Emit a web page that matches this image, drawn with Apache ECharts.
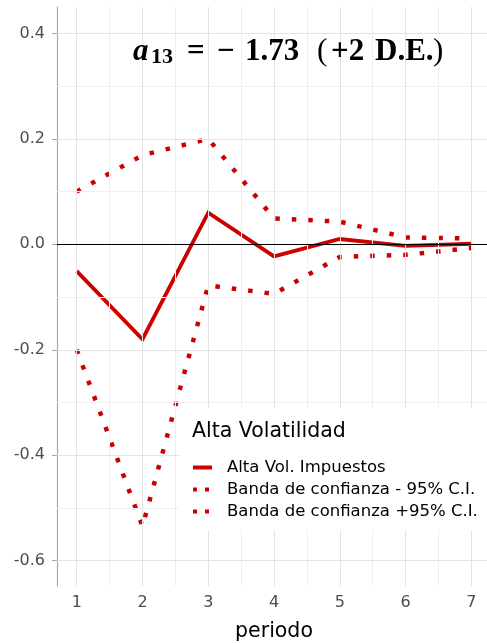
<!DOCTYPE html>
<html><head><meta charset="utf-8">
<script src="https://cdn.jsdelivr.net/npm/echarts@6/dist/echarts.min.js"></script>
<style>html,body{margin:0;padding:0;background:#fff}#c{width:487px;height:643px}</style>
</head><body><div id="c"></div>
<script>
// ---- data ----
const periods = [1, 2, 3, 4, 5, 6, 7];
const altaVol = [-0.051, -0.180, 0.060, -0.023, 0.010, -0.003, 0.001];
const bandLower = [-0.200, -0.535, -0.078, -0.094, -0.024, -0.020, -0.007];
const bandUpper = [0.100, 0.169, 0.200, 0.049, 0.043, 0.013, 0.011];
const seriesNames = ['Alta Vol. Impuestos', 'Banda de confianza - 95% C.I.', 'Banda de confianza +95% C.I.'];
const legendTitle = 'Alta Volatilidad';
const xTicks = [1, 2, 3, 4, 5, 6, 7];
const xMinor = [1.5, 2.5, 3.5, 4.5, 5.5, 6.5];
const yTicks = [-0.6, -0.4, -0.2, 0, 0.2, 0.4];
const yMinor = [-0.5, -0.3, -0.1, 0.1, 0.3];
const xLabel = 'periodo';

// ---- chart ----
const RED = '#CD0000';
const FONT = 'DejaVu Sans';
const pair = (arr) => periods.map((p, i) => [p, arr[i]]);
const gl = (c) => ({ color: c, width: 1, type: 'solid' });
const gridLines = [].concat(
  yMinor.map(v => ({ yAxis: v, lineStyle: gl('#EFEFEF') })),
  xMinor.map(v => ({ xAxis: v, lineStyle: gl('#EFEFEF') })),
  yTicks.map(v => ({ yAxis: v, lineStyle: gl('#E3E3E3') })),
  xTicks.map(v => ({ xAxis: v, lineStyle: gl('#E3E3E3') })),
  [{ yAxis: 0, lineStyle: { color: '#000', width: 1, type: 'solid' } }]
);
const ICON_SOLID = 'path://M0,0h19v4h-19z';
const ICON_DOT = 'path://M0,0h4v4h-4zM12,0h4v4h-4zM19,0v4';

const chart = echarts.init(document.getElementById('c'));
chart.setOption({
  animation: false,
  backgroundColor: '#fff',
  grid: { left: 57, top: 7, right: -4, bottom: 57, outerBoundsMode: 'none' },
  xAxis: {
    type: 'value', min: 0.7, max: 7.3,
    name: xLabel, nameLocation: 'middle', nameGap: 35,
    nameTextStyle: { fontFamily: FONT, fontSize: 20.5, color: '#000' },
    axisLine: { show: true, lineStyle: { color: '#A8A8A8', width: 1.2 } },
    axisTick: { show: true, length: 5, customValues: xTicks, lineStyle: { color: '#A8A8A8' } },
    axisLabel: { customValues: xTicks, margin: 9, fontFamily: FONT, fontSize: 16, color: '#4D4D4D', formatter: v => String(v) },
    splitLine: { show: false }
  },
  yAxis: {
    type: 'value', min: -0.648, max: 0.45,
    axisLine: { show: true, lineStyle: { color: '#A8A8A8', width: 1.2 } },
    axisTick: { show: true, length: 5, customValues: yTicks, lineStyle: { color: '#A8A8A8' } },
    axisLabel: { customValues: yTicks, margin: 12, padding: [5, 0, 0, 0], fontFamily: FONT, fontSize: 16, color: '#4D4D4D', formatter: v => v.toFixed(1) },
    splitLine: { show: false }
  },
  legend: {
    orient: 'vertical', left: 179, top: 408, z: 60,
    padding: [51, 12, 12, 14],
    itemWidth: 19, itemHeight: 4, itemGap: 5,
    textStyle: { fontFamily: FONT, fontSize: 16.5, color: '#000', padding: [0, 0, 0, 10] },
    data: [
      { name: seriesNames[0], icon: ICON_SOLID },
      { name: seriesNames[1], icon: ICON_DOT },
      { name: seriesNames[2], icon: ICON_DOT }
    ]
  },
  graphic: [
    { type: 'rect', shape: { x: 179, y: 408, width: 320, height: 122 }, z: 50, silent: true, style: { fill: '#fff' } },
    { type: 'text', left: 192, top: 421, z: 100, style: { text: legendTitle, font: '20.5px "DejaVu Sans"', fill: '#000' } },
    { type: 'text', x: 133, y: 52, z: 100, style: { text: 'a', font: 'italic bold 31px "Liberation Serif"', fill: '#000', verticalAlign: 'middle' } },
    { type: 'text', x: 151, y: 57, z: 100, style: { text: '13', font: 'bold 22px "Liberation Serif"', fill: '#000', verticalAlign: 'middle' } },
    { type: 'text', x: 187, y: 52, z: 100, style: { text: '=', font: 'bold 31px "Liberation Serif"', fill: '#000', verticalAlign: 'middle' } },
    { type: 'text', x: 217, y: 52, z: 100, style: { text: '−', font: 'bold 31px "Liberation Serif"', fill: '#000', verticalAlign: 'middle' } },
    { type: 'text', x: 245, y: 52, z: 100, style: { text: '1.73', font: 'bold 31px "Liberation Serif"', fill: '#000', verticalAlign: 'middle' } },
    { type: 'text', x: 317, y: 52, z: 100, style: { text: '(', font: '31px "Liberation Serif"', fill: '#000', verticalAlign: 'middle' } },
    { type: 'text', x: 331, y: 52, z: 100, style: { text: '+2', font: 'bold 31px "Liberation Serif"', fill: '#000', verticalAlign: 'middle' } },
    { type: 'text', x: 375, y: 52, z: 100, style: { text: 'D.E.', font: 'bold 31px "Liberation Serif"', fill: '#000', verticalAlign: 'middle' } },
    { type: 'text', x: 433, y: 52, z: 100, style: { text: ')', font: '31px "Liberation Serif"', fill: '#000', verticalAlign: 'middle' } }
  ],
  series: [
    { name: '_grid', type: 'line', data: [], silent: true, z: 1,
      markLine: { silent: true, symbol: 'none', animation: false, label: { show: false }, data: gridLines } },
    { name: seriesNames[0], type: 'line', data: pair(altaVol), symbol: 'none', z: 3,
      lineStyle: { color: RED, width: 3.8, join: 'miter' }, itemStyle: { color: RED } },
    { name: seriesNames[1], type: 'line', data: pair(bandLower), symbol: 'none', z: 3,
      lineStyle: { color: RED, width: 4.5, type: [4.5, 12], cap: 'butt' }, itemStyle: { color: RED } },
    { name: seriesNames[2], type: 'line', data: pair(bandUpper), symbol: 'none', z: 3,
      lineStyle: { color: RED, width: 4.5, type: [4.5, 12], cap: 'butt' }, itemStyle: { color: RED } }
  ]
});
</script></body></html>
